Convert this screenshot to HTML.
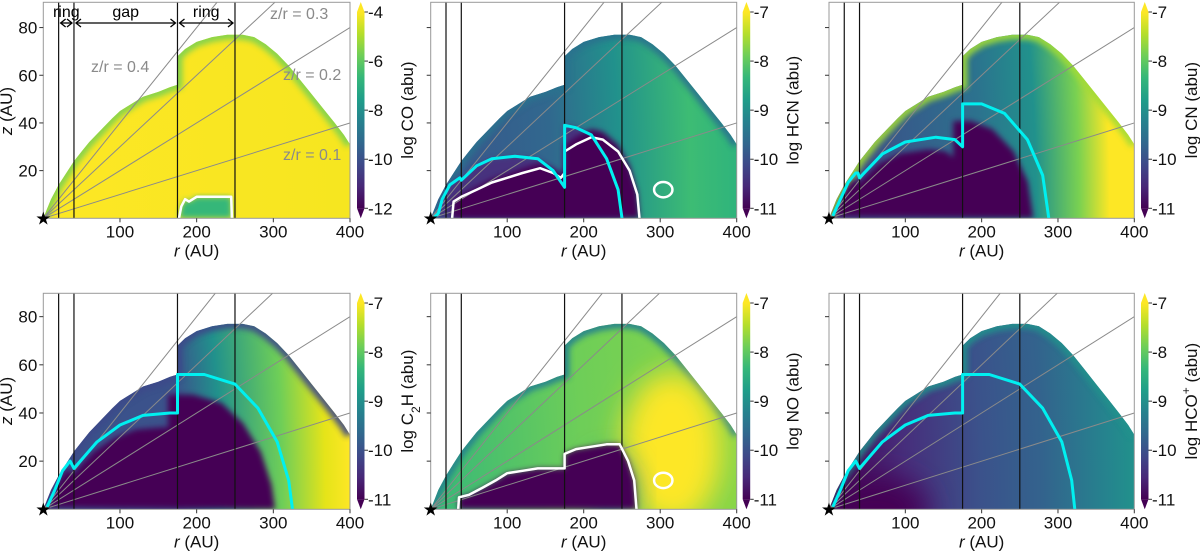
<!DOCTYPE html>
<html><head><meta charset="utf-8">
<style>
html,body{margin:0;padding:0;background:#fff;}
svg{display:block;font-family:"Liberation Sans","DejaVu Sans",sans-serif;}
</style></head>
<body>
<svg id="fig" width="1200" height="551" viewBox="0 0 1200 551" xmlns="http://www.w3.org/2000/svg"></svg>
<script>
// ---------- data ----------
const species = ['CO','HCN','CN','C2H','NO','HCO+'];
const cbTicks = [[-4,-6,-8,-10,-12],[-7,-8,-9,-10,-11],[-7,-8,-9,-10,-11],[-7,-8,-9,-10,-11],[-7,-8,-9,-10,-11],[-7,-8,-9,-10,-11]];
const xTicks = [100,200,300,400];
const yTicks = [20,40,60,80];
const ringR = [20,40,175,250];
const zrSlopes = [0.1,0.2,0.3,0.4];
const diskR = [0,5,10,20,30,40,50,60,75,90,100,115,130,150,165,175,175,185,200,220,240,260,275,290,305,320,335,350,365,380,392,400,400];
const diskZ = [0,4,8,14,19,24,28,32,37,42,45,48,51,53,55,56,68,71,74,76,77,77,76,73,69,64,58,52,46,40,35,31,0];
// cyan contours (r, z) per panel; null = none
const cyanR = [null,
 [5,10,15,25,38,40,60,80,110,140,160,175,175,190,210,230,245,250],
 [5,15,25,35,38,40,70,100,140,165,175,175,200,230,260,280,288],
 [5,15,25,35,40,70,100,130,165,175,175,210,250,280,305,320,325],
 null,
 [5,15,25,35,40,70,100,130,165,175,175,210,250,280,305,318,322]];
const cyanZ = [null,
 [0.5,2,8,14,17,16,22,25,26,25,20,13,39,38,35,25,12,0],
 [1,8,15,19,19,17,27,32,34,33,30,48,48,44,33,18,0],
 [1,8,16,20,17,28,35,39,40,40,56,56,52,42,28,12,0],
 null,
 [1,8,16,20,17,28,35,39,40,40,56,56,52,42,28,12,0]];
// white contours
const whiteR = [[177,180,185,190,200,245,246],
 [28,30,40,60,80,100,120,143,160,170,175,175,190,210,225,245,260,270,273],
 null,null,
 [36,37,50,68,85,100,120,140,160,175,175,190,210,230,247,258,266,269],
 null];
const whiteZ = [[0,5,8,7,9,9,0],
 [0,7,9,12,15,17,19,21,19,17,19,28,31,34,33,28,20,10,0],
 null,null,
 [0,5,6,9,12,15,16,17,17,17,23,25,26,27,27,20,12,0],
 null];
const blobR = [null,304,null,null,304,null];
const blobZ = [null,12,null,null,12,null];

// ---------- layout ----------
const PX=[43.3,430.7,829], PW=[306.7,306,305.3], PY=[2.3,293.3], PH=216, ZMAX=[90.6,89.7];
const CBX=[357,742.7,1141];
const viridis=['#440154','#482878','#3e4989','#31688e','#26828e','#1f9e89','#35b779','#6ece58','#b5de2b','#fde725'];
const fills=[
 {stops:[[0,'#fde725'],[1,'#f6e620']],rim:'#7ad151',dark:null,mid:null},
 {stops:[[0,'#3b528b'],[0.4,'#31688e'],[0.62,'#21918c'],[0.85,'#3dbc74'],[1,'#2fb47c']],rim:'#2c728e',dark:'#440154',mid:'#46327e'},
 {stops:[[0,'#414487'],[0.5,'#2c728e'],[0.68,'#21918c'],[0.82,'#7ad151'],[0.92,'#fde725'],[1,'#fde725']],rim:'#a0da39',dark:'#440154',mid:null},
 {stops:[[0,'#3b528b'],[0.45,'#3b528b'],[0.58,'#21918c'],[0.78,'#6ece58'],[0.92,'#e5e419'],[1,'#fde725']],rim:'#3e4a89',dark:'#440154',mid:null},
 {stops:[[0,'#35b779'],[0.5,'#6ece58'],[1,'#86d549']],rim:'#26828e',dark:'#440154',mid:null},
 {stops:[[0,'#440154'],[0.25,'#472d7b'],[0.5,'#3b528b'],[0.7,'#33638d'],[0.9,'#26828e'],[1,'#21918c']],rim:'#21918c',dark:null,mid:null}
];
const NS='http://www.w3.org/2000/svg';
const svg=document.getElementById('fig');
const defs=document.createElementNS(NS,'defs');svg.appendChild(defs);
function el(tag,attrs,parent){const e=document.createElementNS(NS,tag);for(const k in attrs)e.setAttribute(k,attrs[k]);(parent||svg).appendChild(e);return e;}
const cg=el('linearGradient',{id:'vir',x1:0,y1:1,x2:0,y2:0},defs);
viridis.forEach((c,i)=>el('stop',{offset:i/(viridis.length-1),'stop-color':c},cg));
const bl=el('filter',{id:'blur',x:'-20%',y:'-20%',width:'140%',height:'140%'},defs);
el('feGaussianBlur',{stdDeviation:'3'},bl);
const bl2=el('filter',{id:'blur2',x:'-50%',y:'-50%',width:'200%',height:'200%'},defs);
el('feGaussianBlur',{stdDeviation:'14'},bl2);

for(let p=0;p<6;p++){
  const col=p%3,row=Math.floor(p/3);
  const x0=PX[col],w=PW[col],y0=PY[row],yb=y0+PH,zm=ZMAX[row];
  const X=r=>x0+r/400*w, Y=z=>yb-z/zm*PH;
  const pts=(R,Z)=>R.map((r,i)=>X(r).toFixed(1)+','+Y(Z[i]).toFixed(1)).join(' ');
  const g=el('g',{});
  
  
  const cp=el('clipPath',{id:'disk'+p},defs);
  el('polygon',{points:pts(diskR,diskZ)},cp);
  const ca=el('clipPath',{id:'ax'+p},defs);
  el('rect',{x:x0,y:y0,width:w,height:PH},ca);
  const sx=w/400, sy=PH/zm;
  const rg=el('radialGradient',{id:'rg'+p,gradientUnits:'userSpaceOnUse',cx:0,cy:0,r:400*sx,gradientTransform:`translate(${X(0)},${yb}) scale(1,${sy/sx})`},defs);
  fills[p].stops.forEach(s=>el('stop',{offset:s[0],'stop-color':s[1]},rg));
  const dg=el('g',{'clip-path':`url(#disk${p})`},g);
  
  
  el('rect',{x:x0,y:y0,width:w,height:PH,fill:`url(#rg${p})`},dg);
  el('polyline',{points:pts(diskR.slice(0,-1),diskZ.slice(0,-1)),fill:'none',stroke:fills[p].rim,'stroke-width':10,filter:'url(#blur)',opacity:0.9},dg);
  if(p===4){
    el('ellipse',{cx:X(315),cy:Y(25),rx:65*sx,ry:32*sy,fill:'#fde725',filter:'url(#blur2)'},dg);
    el('ellipse',{cx:X(235),cy:Y(8),rx:30*sx,ry:14*sy,fill:'#26828e',filter:'url(#blur2)'},dg);
  }
  if(p===0){el('polygon',{points:pts(whiteR[0],whiteZ[0]),fill:'#35b779',filter:'url(#blur)'},dg);}
  if(fills[p].mid&&cyanR[p])el('polygon',{points:pts(cyanR[p],cyanZ[p]),fill:fills[p].mid,filter:'url(#blur)'},dg);
  if(fills[p].dark){
    if(p===1||p===4){el('polygon',{points:pts(whiteR[p],whiteZ[p].map(z=>z*(p===1?1.1:1))),fill:fills[p].dark,filter:'url(#blur)'},dg);}
    else{const R=cyanR[p].map(r=>r*0.93),Z=cyanZ[p].map(z=>z*0.85);el('polygon',{points:pts(R,Z),fill:fills[p].dark,filter:'url(#blur)'},dg);}
  }
  if(p===5){el('ellipse',{cx:X(60),cy:Y(0),rx:70*sx,ry:14*sy,fill:'#440154',filter:'url(#blur2)'},dg);}
  const lg=el('g',{'clip-path':`url(#ax${p})`},g);
  zrSlopes.forEach(s=>{
    const r1=Math.min(400,zm/s);
    const ln=el('line',{x1:X(0),y1:Y(0),x2:X(r1),y2:Y(r1*s),stroke:'#8a8a8a','stroke-width':1},lg);
    
    
  });
  ringR.forEach(r=>{
    const ln=el('line',{x1:X(r),y1:y0,x2:X(r),y2:yb,stroke:'#111','stroke-width':1.2},lg);
    
    
  });
  if(whiteR[p]){
    const c=el('polyline',{points:pts(whiteR[p],whiteZ[p]),fill:'none',stroke:'#fff','stroke-width':2.5,'stroke-linejoin':'round'},g);
    
    
  }
  if(blobR[p]!==null){
    const e=el('ellipse',{cx:X(blobR[p]),cy:Y(blobZ[p]),rx:12*sx,ry:3.2*sy,fill:'none',stroke:'#fff','stroke-width':2.5},g);
    
    
  }
  if(cyanR[p]){
    const c=el('polyline',{points:pts(cyanR[p],cyanZ[p]),fill:'none',stroke:'#00f0f0','stroke-width':3,'stroke-linejoin':'round'},g);
    
    
  }
  const fr=el('rect',{x:x0,y:y0,width:w,height:PH,fill:'none',stroke:'#999','stroke-width':1},g);
  
  
  xTicks.forEach(t=>{
    el('line',{x1:X(t),y1:yb,x2:X(t),y2:yb+4,stroke:'#333'},g);
    const tx=el('text',{x:X(t),y:yb+19,'font-size':17,'text-anchor':'middle',fill:'#111'},g);
    tx.textContent=t;
    
    
  });
  yTicks.forEach(t=>{
    el('line',{x1:x0-4,y1:Y(t),x2:x0,y2:Y(t),stroke:'#333'},g);
    if(col===0){
      const tx=el('text',{x:x0-6,y:Y(t)+6,'font-size':17,'text-anchor':'end',fill:'#111'},g);
      tx.textContent=t;
      
      
    }
  });
  const xl=el('text',{x:X(200),y:yb+38,'font-size':17,'text-anchor':'middle',fill:'#111'},g);
  xl.innerHTML='<tspan font-style="italic">r</tspan> (AU)';
  
  
  if(col===0){
    const yl=el('text',{x:0,y:0,'font-size':17,'text-anchor':'middle',fill:'#111',transform:`translate(12,${Y(45)}) rotate(-90)`},g);
    yl.innerHTML='<tspan font-style="italic">z</tspan> (AU)';
    
    
  }
  const st=el('text',{x:X(0),y:yb+6,'font-size':18,'text-anchor':'middle',fill:'#000'},g);
  st.textContent='★';
  
  
  const cx=CBX[col],ct=y0-0.3,cb=yb,tri=10;
  const cbg=el('g',{},g);
  
  
  el('rect',{x:cx,y:ct+tri,width:7.5,height:cb-ct-2*tri,fill:'url(#vir)'},cbg);
  el('polygon',{points:`${cx},${ct+tri} ${cx+3.75},${ct} ${cx+7.5},${ct+tri}`,fill:'#fde725'},cbg);
  el('polygon',{points:`${cx},${cb-tri} ${cx+3.75},${cb} ${cx+7.5},${cb-tri}`,fill:'#440154'},cbg);
  const tk=cbTicks[p];
  tk.forEach((t,i)=>{
    const ty=ct+tri+(cb-ct-2*tri)*i/(tk.length-1);
    el('line',{x1:cx+7.5,y1:ty,x2:cx+11,y2:ty,stroke:'#333'},cbg);
    const tx=el('text',{x:cx+11,y:ty+6,'font-size':17,fill:'#111'},cbg);
    tx.textContent=t;
    
    
  });
  const lbl={CO:'CO',HCN:'HCN',CN:'CN',C2H:'C<tspan baseline-shift="sub" font-size="12">2</tspan>H',NO:'NO','HCO+':'HCO<tspan baseline-shift="super" font-size="12">+</tspan>'}[species[p]];
  const cl=el('text',{x:0,y:0,'font-size':17,'text-anchor':'middle',fill:'#111',transform:`translate(${cx+56},${(ct+cb)/2}) rotate(-90)`},cbg);
  cl.innerHTML='log '+lbl+' (abu)';
  
  
  if(p===0){
    const ag=el('g',{},g);
    
    
    const arrow=(a,b,yy)=>{
      el('line',{x1:X(a)+2,y1:yy,x2:X(b)-2,y2:yy,stroke:'#000','stroke-width':1.3},ag);
      el('polyline',{points:`${X(a)+7},${yy-4} ${X(a)+2},${yy} ${X(a)+7},${yy+4}`,fill:'none',stroke:'#000','stroke-width':1.3},ag);
      el('polyline',{points:`${X(b)-7},${yy-4} ${X(b)-2},${yy} ${X(b)-7},${yy+4}`,fill:'none',stroke:'#000','stroke-width':1.3},ag);
    };
    arrow(ringR[0],ringR[1],23);arrow(ringR[1],ringR[2],23);arrow(ringR[2],ringR[3],23);
    [['ring',(ringR[0]+ringR[1])/2],['gap',(ringR[1]+ringR[2])/2],['ring',(ringR[2]+ringR[3])/2]].forEach(a=>{
      const t=el('text',{x:X(a[1]),y:17,'font-size':16,'text-anchor':'middle',fill:'#000'},ag);
      t.textContent=a[0];
      
      
    });
    [['z/r = 0.3',270,19],['z/r = 0.4',91,72],['z/r = 0.2',283,80],['z/r = 0.1',283,160]].forEach(a=>{
      const t=el('text',{x:a[1],y:a[2],'font-size':16,fill:'#8a8a8a'},ag);
      t.textContent=a[0];
      
      
    });
  }
}
</script>
</body></html>
